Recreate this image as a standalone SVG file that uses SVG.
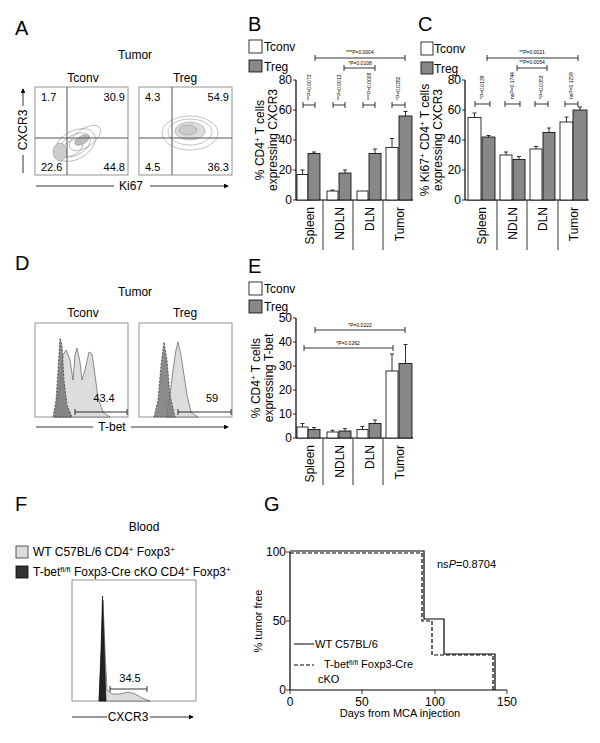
<svg xmlns="http://www.w3.org/2000/svg" width="600" height="743" viewBox="0 0 600 743">
<style>
text{font-family:"Liberation Sans",Arial,sans-serif;fill:#000}
.pl{font-size:20px}
.t{font-size:12px}
.s{font-size:11px}
.p{font-size:5px}
.ax{stroke:#000;stroke-width:1.2;fill:none}
.bx{stroke:#777;stroke-width:0.8;fill:#fff}
.cw{fill:#fff;stroke:#000;stroke-width:0.8}
.cg{fill:#888;stroke:#000;stroke-width:0.8}
.ln{stroke:#000;stroke-width:0.8;fill:none}
.ct{fill:none;stroke:#999;stroke-width:0.6}
</style>
<defs>
<marker id="ar" markerWidth="6" markerHeight="6" refX="5" refY="3" orient="auto"><path d="M0,0 L6,3 L0,6z" fill="#000"/></marker>
</defs>

<!-- Panel A -->
<g id="panelA">
<text class="pl" x="15" y="35">A</text>
<text class="t" x="135" y="59" text-anchor="middle">Tumor</text>
<text class="t" x="83" y="82" text-anchor="middle">Tconv</text>
<text class="t" x="185" y="82" text-anchor="middle">Treg</text>
<rect class="bx" x="35" y="87" width="93" height="88"/>
<rect class="bx" x="139" y="87" width="93" height="88"/>
<g class="ct">
<ellipse cx="75" cy="145" rx="22" ry="14" transform="rotate(-30 75 145)"/>
<ellipse cx="75" cy="145" rx="17" ry="10" transform="rotate(-30 75 145)"/>
<ellipse cx="72" cy="148" rx="12" ry="7" transform="rotate(-30 72 148)"/>
<ellipse cx="85" cy="138" rx="18" ry="9" transform="rotate(-35 85 138)"/>
<ellipse cx="82" cy="140" rx="8" ry="4" transform="rotate(-30 82 140)" fill="#bbb"/>
<ellipse cx="60" cy="152" rx="7" ry="9" fill="#ccc"/>
<ellipse cx="190" cy="133" rx="28" ry="17"/>
<ellipse cx="190" cy="132" rx="22" ry="13"/>
<ellipse cx="190" cy="131" rx="15" ry="9" fill="#ddd"/>
<ellipse cx="188" cy="130" rx="9" ry="5" fill="#ccc"/>
</g>
<line x1="35" y1="138" x2="128" y2="138" stroke="#555" stroke-width="1"/>
<line x1="67" y1="87" x2="67" y2="175" stroke="#555" stroke-width="1"/>
<line x1="139" y1="138" x2="232" y2="138" stroke="#555" stroke-width="1"/>
<line x1="172" y1="87" x2="172" y2="175" stroke="#555" stroke-width="1"/>
<text class="s" x="41" y="101">1.7</text>
<text class="s" x="125" y="101" text-anchor="end">30.9</text>
<text class="s" x="41" y="171">22.6</text>
<text class="s" x="125" y="171" text-anchor="end">44.8</text>
<text class="s" x="145" y="101">4.3</text>
<text class="s" x="229" y="101" text-anchor="end">54.9</text>
<text class="s" x="145" y="171">4.5</text>
<text class="s" x="229" y="171" text-anchor="end">36.3</text>
<line class="ln" x1="36" y1="186" x2="114" y2="186" stroke="#555"/>
<text class="t" x="131" y="190" text-anchor="middle">Ki67</text>
<line class="ln" x1="150" y1="186" x2="228" y2="186" marker-end="url(#ar)"/>
<line class="ln" x1="23" y1="173" x2="23" y2="155"/>
<text class="t" transform="translate(27,130) rotate(-90)" text-anchor="middle">CXCR3</text>
<line class="ln" x1="23" y1="106" x2="23" y2="89" marker-end="url(#ar)"/>
</g>

<!-- Panel B -->
<g id="panelB">
<text class="pl" x="248" y="31">B</text>
<rect class="cw" x="249" y="40" width="13" height="13"/>
<rect class="cg" x="249" y="60" width="13" height="12"/>
<text class="t" x="264" y="51">Tconv</text>
<text class="t" x="264" y="71">Treg</text>
<line class="ax" x1="296" y1="80" x2="296" y2="200"/>
<line class="ax" x1="296" y1="200" x2="413" y2="200"/>
<g class="ln"><path d="M293,80h3M293,110h3M293,140h3M293,170h3M293,200h3"/></g>
<g class="t" text-anchor="end"><text x="292" y="84">80</text><text x="292" y="114">60</text><text x="292" y="144">40</text><text x="292" y="174">20</text><text x="292" y="204">0</text></g>
<text class="t" transform="translate(264,140) rotate(-90)" text-anchor="middle">% CD4<tspan baseline-shift="super" font-size="8">+</tspan> T cells</text>
<text class="t" transform="translate(277,140) rotate(-90)" text-anchor="middle">expressing CXCR3</text>
<rect class="cw" x="297" y="174.5" width="11" height="25.5"/><path class="ln" d="M302.5,174.5v-4.5m-2,0h4"/>
<rect class="cg" x="308" y="153.5" width="12" height="46.5"/><path class="ln" d="M314,153.5v-1.5m-2,0h4"/>
<rect class="cw" x="327" y="191" width="11" height="9"/><path class="ln" d="M332.5,191v-1m-2,0h4"/>
<rect class="cg" x="339" y="173" width="12" height="27"/><path class="ln" d="M345,173v-3m-2,0h4"/>
<rect class="cw" x="357" y="191" width="11" height="9"/>
<rect class="cg" x="369" y="153.5" width="12" height="46.5"/><path class="ln" d="M375,153.5v-4.5m-2,0h4"/>
<rect class="cw" x="386" y="147.5" width="12" height="52.5"/><path class="ln" d="M392,147.5v-9m-2,0h4"/>
<rect class="cg" x="399" y="116" width="13" height="84"/><path class="ln" d="M405.5,116v-4.5m-2,0h4"/>
<g class="ln"><path d="M323,200v50M353,200v50M383,200v50"/></g>
<g class="t"><text transform="translate(314,207) rotate(-90)" text-anchor="end">Spleen</text><text transform="translate(344,207) rotate(-90)" text-anchor="end">NDLN</text><text transform="translate(374,207) rotate(-90)" text-anchor="end">DLN</text><text transform="translate(404,207) rotate(-90)" text-anchor="end">Tumor</text></g>
<g class="ln"><path d="M303,105h12M303,102v6M315,102v6M333,105h12M333,102v6M345,102v6M363,105h12M363,102v6M375,102v6M392,105h13M392,102v6M405,102v6"/>
<path d="M315,58h90M315,55v6M405,55v6M344,68h31M344,65v6M375,65v6"/></g>
<g class="p"><text transform="translate(311,100) rotate(-90)">**P=0.0073</text><text transform="translate(341,100) rotate(-90)">**P=0.0013</text><text transform="translate(371,100) rotate(-90)">***P=0.0008</text><text transform="translate(400,100) rotate(-90)">*P=0.0282</text>
<text x="360" y="54" text-anchor="middle">***P=0.0004</text><text x="360" y="65" text-anchor="middle">*P=0.0108</text></g>
</g>

<!-- Panel C -->
<g id="panelC">
<text class="pl" x="418" y="31">C</text>
<rect class="cw" x="421" y="42" width="12" height="13"/>
<rect class="cg" x="421" y="62" width="12" height="12"/>
<text class="t" x="434" y="53">Tconv</text>
<text class="t" x="434" y="73">Treg</text>
<line class="ax" x1="465" y1="80" x2="465" y2="200"/>
<line class="ax" x1="465" y1="200" x2="589" y2="200"/>
<g class="ln"><path d="M462,80h3M462,110h3M462,140h3M462,170h3M462,200h3"/></g>
<g class="t" text-anchor="end"><text x="461" y="84">80</text><text x="461" y="114">60</text><text x="461" y="144">40</text><text x="461" y="174">20</text><text x="461" y="204">0</text></g>
<text class="t" transform="translate(429,140) rotate(-90)" text-anchor="middle">% Ki67<tspan baseline-shift="super" font-size="8">+</tspan> CD4<tspan baseline-shift="super" font-size="8">+</tspan> T cells</text>
<text class="t" transform="translate(442,140) rotate(-90)" text-anchor="middle">expressing CXCR3</text>
<rect class="cw" x="468" y="117.5" width="13" height="82.5"/><path class="ln" d="M474.5,117.5v-4.5m-2,0h4"/>
<rect class="cg" x="482" y="137" width="13" height="63"/><path class="ln" d="M488.5,137v-1.5m-2,0h4"/>
<rect class="cw" x="500" y="155" width="12" height="45"/><path class="ln" d="M506,155v-3m-2,0h4"/>
<rect class="cg" x="513" y="159.5" width="12" height="40.5"/><path class="ln" d="M519,159.5v-3m-2,0h4"/>
<rect class="cw" x="530" y="149" width="12" height="51"/><path class="ln" d="M536,149v-2.5m-2,0h4"/>
<rect class="cg" x="543" y="132.5" width="12" height="67.5"/><path class="ln" d="M549,132.5v-4.5m-2,0h4"/>
<rect class="cw" x="560" y="122" width="13" height="78"/><path class="ln" d="M566.5,122v-5m-2,0h4"/>
<rect class="cg" x="573" y="110" width="14" height="90"/><path class="ln" d="M580,110v-3m-2,0h4"/>
<g class="ln"><path d="M497,200v50M527,200v50M558,200v50"/></g>
<g class="t"><text transform="translate(486,207) rotate(-90)" text-anchor="end">Spleen</text><text transform="translate(517,207) rotate(-90)" text-anchor="end">NDLN</text><text transform="translate(547,207) rotate(-90)" text-anchor="end">DLN</text><text transform="translate(578,207) rotate(-90)" text-anchor="end">Tumor</text></g>
<g class="ln"><path d="M475,104h15M475,101v6M490,101v6M505,104h15M505,101v6M520,101v6M535,104h13M535,101v6M548,101v6M565,104h13M565,101v6M578,101v6"/>
<path d="M487,58h91M487,55v6M578,55v6M517,68h30M517,65v6M547,65v6"/></g>
<g class="p"><text transform="translate(484,99) rotate(-90)">*P=0.0139</text><text transform="translate(514,99) rotate(-90)">nsP=0.1744</text><text transform="translate(543,99) rotate(-90)">*P=0.0353</text><text transform="translate(573,99) rotate(-90)">nsP=0.1259</text>
<text x="532" y="54" text-anchor="middle">**P=0.0021</text><text x="532" y="64" text-anchor="middle">**P=0.0054</text></g>
</g>

<!-- Panel D -->
<g id="panelD">
<text class="pl" x="15" y="270">D</text>
<text class="t" x="135" y="296" text-anchor="middle">Tumor</text>
<text class="t" x="83" y="317" text-anchor="middle">Tconv</text>
<text class="t" x="185" y="317" text-anchor="middle">Treg</text>
<rect class="bx" x="35" y="323" width="93" height="94"/>
<rect class="bx" x="139" y="323" width="93" height="94"/>
<path d="M55,417 L60,385 L63,355 L66,350 L70,360 L73,380 L75,355 L77,348 L80,362 L82,380 L85,370 L89,352 L92,354 L95,375 L98,398 L103,412 L110,417Z" fill="#ddd" stroke="#444" stroke-width="0.6"/>
<path d="M53,417 L56,400 L58,370 L60,338 L62,345 L64,380 L67,405 L72,417Z" fill="#777" stroke="#333" stroke-width="0.7" stroke-dasharray="2,1.5" fill-opacity="0.85"/>
<path d="M166,417 L170,395 L173,370 L176,350 L178,342 L181,355 L184,375 L187,395 L191,412 L198,417Z" fill="#ddd" stroke="#444" stroke-width="0.6"/>
<path d="M154,417 L158,400 L161,365 L164,342 L167,360 L170,395 L175,417Z" fill="#777" stroke="#333" stroke-width="0.7" stroke-dasharray="2,1.5" fill-opacity="0.85"/>
<path class="ln" d="M75,412h52M75,409v6M127,409v6M178,412h53M178,409v6M231,409v6"/>
<text class="s" x="104" y="402" text-anchor="middle">43.4</text>
<text class="s" x="212" y="402" text-anchor="middle">59</text>
<line class="ln" x1="36" y1="427" x2="93" y2="427"/>
<text class="t" x="112" y="431" text-anchor="middle">T-bet</text>
<line class="ln" x1="131" y1="427" x2="228" y2="427" marker-end="url(#ar)"/>
</g>

<!-- Panel E -->
<g id="panelE">
<text class="pl" x="248" y="273">E</text>
<rect class="cw" x="249" y="282" width="13" height="13"/>
<rect class="cg" x="249" y="300" width="13" height="13"/>
<text class="t" x="264" y="293">Tconv</text>
<text class="t" x="264" y="311">Treg</text>
<line class="ax" x1="296" y1="318" x2="296" y2="438"/>
<line class="ax" x1="296" y1="438" x2="413" y2="438"/>
<g class="ln"><path d="M293,318h3M293,342h3M293,366h3M293,390h3M293,414h3M293,438h3"/></g>
<g class="t" text-anchor="end"><text x="292" y="322">50</text><text x="292" y="346">40</text><text x="292" y="370">30</text><text x="292" y="394">20</text><text x="292" y="418">10</text><text x="292" y="442">0</text></g>
<text class="t" transform="translate(260,378) rotate(-90)" text-anchor="middle">% CD4<tspan baseline-shift="super" font-size="8">+</tspan> T cells</text>
<text class="t" transform="translate(273,378) rotate(-90)" text-anchor="middle">expressing T-bet</text>
<rect class="cw" x="297" y="427" width="11" height="11"/><path class="ln" d="M302.5,427v-3.5m-2,0h4"/>
<rect class="cg" x="308" y="429.5" width="12" height="8.5"/><path class="ln" d="M314,429.5v-2m-2,0h4"/>
<rect class="cw" x="327" y="432" width="11" height="6"/><path class="ln" d="M332.5,432v-1.7m-2,0h4"/>
<rect class="cg" x="339" y="431" width="12" height="7"/><path class="ln" d="M345,431v-2.4m-2,0h4"/>
<rect class="cw" x="357" y="429.5" width="11" height="8.5"/><path class="ln" d="M362.5,429.5v-3m-2,0h4"/>
<rect class="cg" x="369" y="423.5" width="12" height="14.5"/><path class="ln" d="M375,423.5v-3.5m-2,0h4"/>
<rect class="cw" x="386" y="371" width="12" height="67"/><path class="ln" d="M392,371v-17m-2,0h4"/>
<rect class="cg" x="399" y="363.5" width="13" height="74.5"/><path class="ln" d="M405.5,363.5v-19m-2,0h4"/>
<g class="ln"><path d="M323,438v47M353,438v47M383,438v47"/></g>
<g class="t"><text transform="translate(314,445) rotate(-90)" text-anchor="end">Spleen</text><text transform="translate(344,445) rotate(-90)" text-anchor="end">NDLN</text><text transform="translate(374,445) rotate(-90)" text-anchor="end">DLN</text><text transform="translate(404,445) rotate(-90)" text-anchor="end">Tumor</text></g>
<g class="ln"><path d="M315,330h90M315,327v6M405,327v6M304,348h89M304,345v6M393,345v6"/></g>
<g class="p"><text x="360" y="327" text-anchor="middle">*P=0.0222</text><text x="348" y="345" text-anchor="middle">*P=0.0262</text></g>
</g>

<!-- Panel F -->
<g id="panelF">
<text class="pl" x="15" y="511">F</text>
<text class="t" x="144" y="531" text-anchor="middle">Blood</text>
<rect x="16" y="546" width="12" height="12" fill="#ddd" stroke="#333" stroke-width="0.8"/>
<rect x="16" y="566" width="12" height="12" fill="#333" stroke="#000" stroke-width="0.8"/>
<text class="t" x="33" y="556">WT C57BL/6 CD4<tspan baseline-shift="super" font-size="8">+</tspan> Foxp3<tspan baseline-shift="super" font-size="8">+</tspan></text>
<text class="t" x="33" y="576">T-bet<tspan baseline-shift="super" font-size="8">fl/fl</tspan> Foxp3-Cre cKO CD4<tspan baseline-shift="super" font-size="8">+</tspan> Foxp3<tspan baseline-shift="super" font-size="8">+</tspan></text>
<rect class="bx" x="72" y="580" width="124" height="121"/>
<path d="M99,701 L101,660 L103,600 L105,650 L107,690 L112,694 L120,694 L128,692 L135,694 L142,698 L150,701Z" fill="#ddd" stroke="#444" stroke-width="0.6"/>
<path d="M99,701 L101,650 L102.5,596 L104,640 L106,701Z" fill="#222" stroke="#000" stroke-width="0.6"/>
<path class="ln" d="M110,689h37M110,686v6M147,686v6"/>
<text class="s" x="130" y="682" text-anchor="middle">34.5</text>
<line class="ln" x1="72" y1="717" x2="107" y2="717"/>
<text class="t" x="128" y="721" text-anchor="middle">CXCR3</text>
<line class="ln" x1="150" y1="717" x2="193" y2="717" marker-end="url(#ar)"/>
</g>

<!-- Panel G -->
<g id="panelG">
<text class="pl" x="264" y="511">G</text>
<line class="ax" x1="290" y1="552" x2="290" y2="690"/>
<line class="ax" x1="290" y1="690" x2="507" y2="690"/>
<g class="ln"><path d="M286,552h4M286,621h4M286,690h4M290,690v4M362,690v4M435,690v4M507,690v4"/></g>
<g class="t" text-anchor="end"><text x="286" y="556">100</text><text x="286" y="625">50</text><text x="286" y="694">0</text></g>
<g class="t" text-anchor="middle"><text x="290" y="706">0</text><text x="362" y="706">50</text><text x="435" y="706">100</text><text x="507" y="706">150</text></g>
<text class="s" x="400" y="717" text-anchor="middle">Days from MCA injection</text>
<text class="s" transform="translate(262,621) rotate(-90)" text-anchor="middle">% tumor free</text>
<path d="M290,551 H424 V619 H444 V654 H495 V690" fill="none" stroke="#000" stroke-width="1.2"/>
<path d="M290,553 H422 V621 H432 V655 H493 V690" fill="none" stroke="#000" stroke-width="1.2" stroke-dasharray="4,2"/>
<text class="s" x="437" y="568">ns<tspan font-style="italic">P</tspan>=0.8704</text>
<line x1="294" y1="644" x2="314" y2="644" stroke="#000" stroke-width="1"/>
<text class="s" x="315" y="648">WT C57BL/6</text>
<line x1="294" y1="665" x2="314" y2="665" stroke="#000" stroke-width="1" stroke-dasharray="4,2"/>
<text class="s" x="324" y="668">T-bet<tspan baseline-shift="super" font-size="7">fl/fl</tspan> Foxp3-Cre</text>
<text class="s" x="318" y="683">cKO</text>
</g>
</svg>
